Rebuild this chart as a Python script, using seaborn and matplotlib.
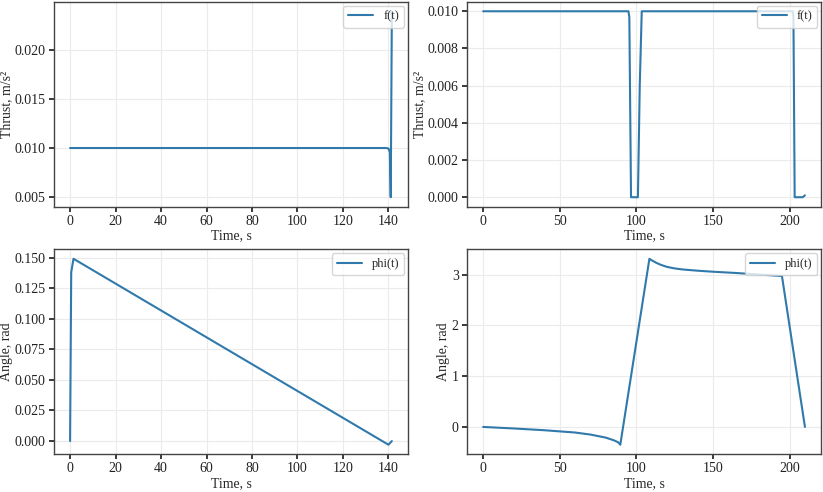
import matplotlib
matplotlib.use("Agg")
import matplotlib.pyplot as plt
import matplotlib.ticker as mticker
import seaborn as sns

# Thrust, first manoeuvre
thrust_t1 = [0.0, 139.0, 140.0, 140.6, 141.0, 141.5]
thrust_f1 = [0.010, 0.010, 0.00995, 0.0096, 0.005, 0.0239]

# Thrust, second manoeuvre
thrust_t2 = [0.0, 94.8, 95.4, 96.5, 101.0, 102.2, 103.5, 202.0, 202.5, 203.3, 208.5, 210.0]
thrust_f2 = [0.010, 0.010, 0.0097, 0.0, 0.0, 0.0060, 0.010, 0.010, 0.0097, 0.0, 0.0, 0.0001]

# Angle, first manoeuvre
phi_t1 = [0.0, 0.5, 1.5, 140.0, 141.5]
phi_v1 = [0.0, 0.138, 0.149, -0.003, 0.0]

# Angle, second manoeuvre
phi_t2 = [0.0, 20.0, 40.0, 60.0, 70.0, 80.0, 85.0, 88.0, 89.5,
          108.5, 110.0, 113.0, 116.0, 120.0, 125.0, 130.0, 140.0, 150.0,
          165.0, 180.0, 195.0, 210.0]
phi_v2 = [0.0, -0.03, -0.065, -0.11, -0.15, -0.21, -0.26, -0.30, -0.35,
          3.31, 3.28, 3.23, 3.19, 3.15, 3.12, 3.10, 3.075, 3.055,
          3.03, 3.00, 2.97, 0.0]

LINE_COLOR = "#3079ab"

sns.set_theme(style="ticks", rc={
    "axes.grid": True,
    "grid.color": "#ebebeb",
    "grid.linewidth": 0.8,
    "axes.edgecolor": "#444444",
    "axes.linewidth": 1.0,
    "xtick.major.size": 3.5,
    "ytick.major.size": 3.5,
    "xtick.color": "#222222",
    "ytick.color": "#222222",
})
plt.rcParams["font.family"] = ["Liberation Serif", "DejaVu Serif"]

fig, axes = plt.subplots(2, 2, figsize=(8.23, 4.92), dpi=100)
fig.subplots_adjust(left=0.0656, right=0.9976, top=0.996, bottom=0.0772,
                    wspace=0.167, hspace=0.21)

panels = [
    (axes[0, 0], thrust_t1, thrust_f1, "f(t)", "Thrust, m/s²"),
    (axes[0, 1], thrust_t2, thrust_f2, "f(t)", "Thrust, m/s²"),
    (axes[1, 0], phi_t1, phi_v1, "phi(t)", "Angle, rad"),
    (axes[1, 1], phi_t2, phi_v2, "phi(t)", "Angle, rad"),
]

for ax, t, v, label, ylabel in panels:
    sns.lineplot(x=t, y=v, ax=ax, color=LINE_COLOR, linewidth=1.5,
                 estimator=None, sort=False, label=label)
    ax.set_xlabel("Time, s", fontsize=10, labelpad=1)
    ax.set_ylabel(ylabel, fontsize=10, labelpad=1)
    ax.tick_params(labelsize=10, pad=2.5)
    ax.legend(loc="upper right", fontsize=9, frameon=True, borderaxespad=0.3,
              handlelength=2.0)

axes[0, 0].set_yticks([0.005, 0.010, 0.015, 0.020])
for ax in (axes[0, 0], axes[0, 1], axes[1, 0]):
    ax.yaxis.set_major_formatter(mticker.FormatStrFormatter("%.3f"))

fig.savefig("out.png", dpi=100)
